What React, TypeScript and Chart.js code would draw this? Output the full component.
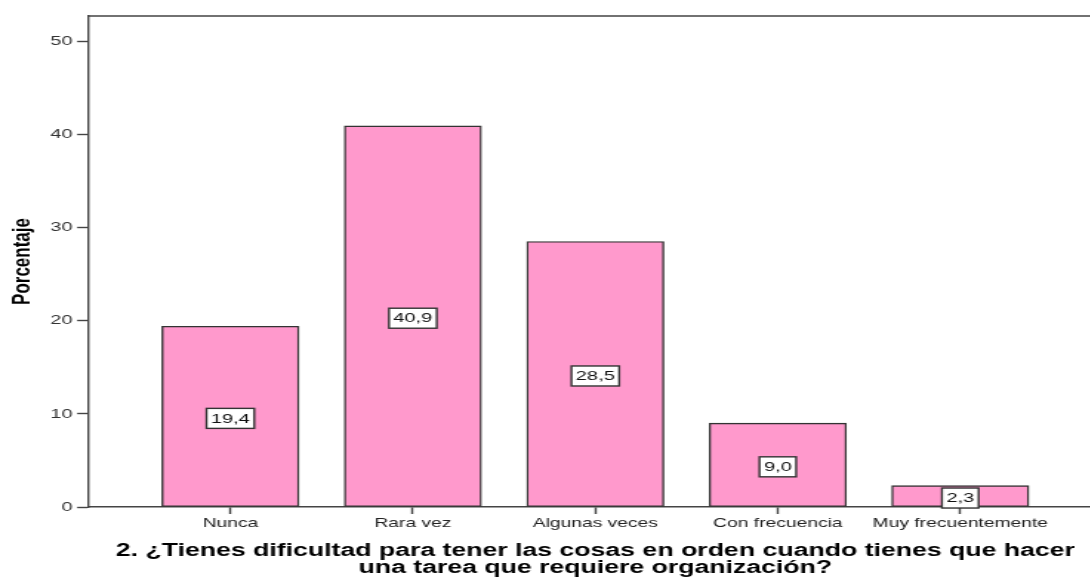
import React, { useEffect, useRef } from "react";
import { Chart, registerables } from "chart.js";

Chart.register(...registerables);

// Survey answers and their percentages
const categories: string[] = ["Nunca", "Rara vez", "Algunas veces", "Con frecuencia", "Muy frecuentemente"];
const percentages: number[] = [19.4, 40.9, 28.5, 9.0, 2.3];
const yTickValues: number[] = [0, 10, 20, 30, 40, 50];
const yAxisTitle = "Porcentaje";
const xAxisTitle: string[] = [
  "2. ¿Tienes dificultad para tener las cosas en orden cuando tienes que hacer",
  "una tarea que requiere organización?",
];

const FONT = '"Liberation Sans", Arial, sans-serif';
const STRETCH = 1.48; // the whole figure is drawn with a wide horizontal aspect
const CANVAS_W = 745;
const CANVAS_H = 577;
const LINE = "#444444";

// Boxed value labels centred on each bar
const valueBoxes = {
  id: "valueBoxes",
  afterDatasetsDraw(chart: any) {
    const ctx = chart.ctx;
    const meta = chart.getDatasetMeta(0);
    ctx.save();
    ctx.font = `13.5px ${FONT}`;
    ctx.textAlign = "center";
    ctx.textBaseline = "middle";
    meta.data.forEach((el: any, i: number) => {
      const text = percentages[i].toFixed(1).replace(".", ",");
      const w = ctx.measureText(text).width + 6;
      const h = 20;
      const cx = el.x;
      const cy = (el.y + el.base) / 2 + 2;
      ctx.fillStyle = "#ffffff";
      ctx.fillRect(cx - w / 2, cy - h / 2, w, h);
      ctx.lineWidth = 1.4;
      ctx.strokeStyle = "#333333";
      ctx.strokeRect(cx - w / 2, cy - h / 2, w, h);
      ctx.fillStyle = "#111111";
      ctx.fillText(text, cx, cy + 0.5);
    });
    ctx.restore();
  },
};

// Top and right edges of the plot frame
const frame = {
  id: "frame",
  afterDraw(chart: any) {
    const { ctx, chartArea } = chart;
    ctx.save();
    ctx.strokeStyle = LINE;
    ctx.lineWidth = 1.4;
    ctx.beginPath();
    ctx.moveTo(chartArea.left, chartArea.top);
    ctx.lineTo(chartArea.right, chartArea.top);
    ctx.lineTo(chartArea.right, chartArea.bottom);
    ctx.stroke();
    ctx.restore();
  },
};

export default function App() {
  const canvasRef = useRef<HTMLCanvasElement | null>(null);

  useEffect(() => {
    const canvas = canvasRef.current;
    if (!canvas) return;
    const chart = new Chart(canvas, {
      type: "bar",
      data: {
        datasets: [
          {
            data: percentages.map((v, i) => ({ x: i, y: v })),
            backgroundColor: "#ff99cc",
            borderColor: "#333333",
            borderWidth: 1.4,
            borderSkipped: false,
            barThickness: 92.6,
          },
        ],
      },
      options: {
        responsive: false,
        animation: false,
        devicePixelRatio: 1,
        layout: { padding: { top: 16, right: 0, left: 0, bottom: 0 } },
        plugins: {
          legend: { display: false },
          tooltip: { enabled: false },
        },
        scales: {
          x: {
            type: "linear",
            min: -0.78,
            max: 4.78,
            offset: false,
            afterBuildTicks: (scale: any) => {
              scale.ticks = categories.map((_, i) => ({ value: i }));
            },
            afterFit: (scale: any) => {
              scale.height = 70;
            },
            grid: {
              offset: false,
              drawOnChartArea: false,
              drawTicks: true,
              tickLength: 7,
              tickWidth: 1.4,
              tickColor: LINE,
            },
            border: { display: true, color: LINE, width: 1.4 },
            ticks: {
              autoSkip: false,
              maxRotation: 0,
              padding: 2,
              color: "#222222",
              font: { family: FONT, size: 13 },
              callback: (value: any) => categories[Math.round(Number(value))] ?? "",
            },
            title: {
              display: true,
              text: xAxisTitle,
              color: "#000000",
              font: { family: FONT, size: 18, weight: "bold", lineHeight: 0.95 },
              padding: { top: 0, bottom: 0 },
            },
          },
          y: {
            min: 0,
            max: 52.7,
            afterBuildTicks: (scale: any) => {
              scale.ticks = yTickValues.map((v) => ({ value: v }));
            },
            afterFit: (scale: any) => {
              scale.width = 59.5;
            },
            grid: {
              drawOnChartArea: false,
              drawTicks: true,
              tickLength: 7.4,
              tickWidth: 1.4,
              tickColor: LINE,
            },
            border: { display: true, color: LINE, width: 1.4 },
            ticks: {
              padding: 3,
              color: "#333333",
              font: { family: FONT, size: 13.5 },
            },
            title: {
              display: true,
              text: yAxisTitle,
              color: "#000000",
              font: { family: FONT, size: 17, weight: "bold" },
              padding: { top: 5, bottom: 0 },
            },
          },
        },
      },
      plugins: [valueBoxes, frame],
    });
    return () => chart.destroy();
  }, []);

  return (
    <div
      style={{
        position: "fixed",
        left: 0,
        top: 0,
        width: 1090,
        height: 577,
        overflow: "hidden",
        background: "#ffffff",
      }}
    >
      <canvas
        ref={canvasRef}
        width={CANVAS_W}
        height={CANVAS_H}
        style={{
          display: "block",
          transform: `scaleX(${STRETCH})`,
          transformOrigin: "0 0",
        }}
      />
    </div>
  );
}
